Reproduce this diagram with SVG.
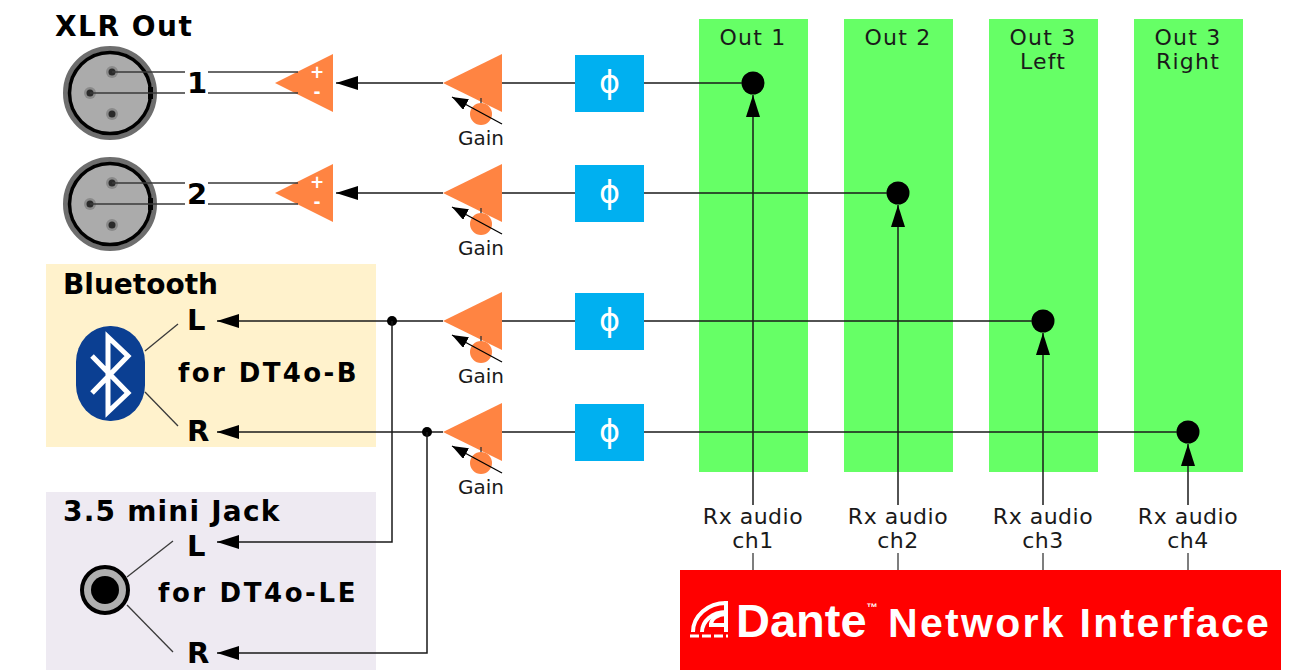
<svg xmlns="http://www.w3.org/2000/svg" width="1304" height="670" viewBox="0 0 1304 670">
<defs>
<style>
.t{font-family:"DejaVu Sans","Liberation Sans",sans-serif;fill:#1a1a1a}
.b{font-weight:bold;fill:#000}
.ln{stroke:#1a1a1a;stroke-width:1.5;fill:none}
.thin{stroke:#3a3a3a;stroke-width:1.3;fill:none}
.amp{fill:#FF8442}
.ph{fill:#00B0F0}
.col{fill:#66FF66}
.phi{font-family:"DejaVu Sans",sans-serif;font-size:32px;fill:#fff;text-anchor:middle}
.gain{font-size:20px;text-anchor:middle}
.out{font-size:22px;letter-spacing:1.2px;text-anchor:middle}
.rx{font-size:22px;letter-spacing:0.5px;text-anchor:middle}
.lr{font-size:29px}
.pm{font-family:"DejaVu Sans",sans-serif;font-size:17px;font-weight:bold;fill:#fff;text-anchor:middle}
</style>
<marker id="ah" viewBox="0 0 22 14" refX="22" refY="7" markerWidth="22" markerHeight="14" markerUnits="userSpaceOnUse" orient="auto"><path d="M0,0 L22,7 L0,14 z" fill="#000"/></marker>
<marker id="ahs" viewBox="0 0 16 12" refX="16" refY="6" markerWidth="16" markerHeight="12" markerUnits="userSpaceOnUse" orient="auto"><path d="M0,0 L16,6 L0,12 z" fill="#000"/></marker>
<g id="xlrBody">
<circle r="44.5" fill="#ababab" stroke="#6e6e6e" stroke-width="5"/>
<circle r="40.5" fill="none" stroke="#000" stroke-width="3.5"/>
<circle cx="2" cy="-21" r="6" fill="#8a8a8a"/><circle cx="2" cy="-21" r="3.5" fill="#2a2a2a"/>
<circle cx="-20" cy="0" r="6" fill="#8a8a8a"/><circle cx="-20" cy="0" r="3.5" fill="#2a2a2a"/>
<circle cx="2" cy="21" r="6" fill="#8a8a8a"/><circle cx="2" cy="21" r="3.5" fill="#2a2a2a"/>
<rect x="38" y="-6" width="5" height="12" fill="#000"/>
</g>
<g id="gainBody">
<polygon class="amp" points="443,83 502,54 502,112"/>
<line x1="481" y1="98" x2="481" y2="104" stroke="#333" stroke-width="1.3"/>
<circle class="amp" cx="481" cy="114" r="11"/>
<line x1="502" y1="124" x2="452" y2="97" stroke="#000" stroke-width="1.3" marker-end="url(#ahs)"/>
<text class="t gain" x="481" y="145">Gain</text>
</g>
<g id="phaseBody">
<rect class="ph" x="575" y="55" width="69" height="57"/>
<text class="phi" x="609.5" y="93">ϕ</text>
</g>
</defs>
<rect width="1304" height="670" fill="#fff"/>

<g id="out1"><rect class="col" x="699" y="19" width="109" height="453"/><text class="t out" x="753" y="45">Out 1</text><circle cx="753" cy="83" r="11.5" fill="#000"/></g>
<g id="out2"><rect class="col" x="844" y="19" width="109" height="453"/><text class="t out" x="898" y="45">Out 2</text><circle cx="898" cy="193" r="11.5" fill="#000"/></g>
<g id="out3L"><rect class="col" x="989" y="19" width="109" height="453"/><text class="t out" x="1043" y="45">Out 3</text><text class="t out" x="1043" y="69">Left</text><circle cx="1043" cy="321" r="11.5" fill="#000"/></g>
<g id="out3R"><rect class="col" x="1134" y="19" width="109" height="453"/><text class="t out" x="1188" y="45">Out 3</text><text class="t out" x="1188" y="69">Right</text><circle cx="1188" cy="432" r="11.5" fill="#000"/></g>

<g id="bluetooth">
<rect x="46" y="264" width="330" height="183" fill="#FFF2CC"/>
<text class="t b" x="63" y="294" font-size="28">Bluetooth</text>
<rect x="76" y="326" width="69" height="95" rx="34" ry="36" fill="#0B3F92"/>
<path d="M92,356 L128,393 L108,412 L108,337 L128,356 L92,393" fill="none" stroke="#fff" stroke-width="5" stroke-linejoin="miter"/>
<line class="thin" x1="145" y1="351" x2="178" y2="324"/>
<line class="thin" x1="145" y1="392" x2="178" y2="426"/>
<text class="t b lr" x="187" y="330">L</text>
<text class="t b lr" x="187" y="441">R</text>
<text class="t b" x="178" y="382" font-size="26" letter-spacing="2.4">for DT4o-B</text>
</g>

<g id="minijack">
<rect x="46" y="492" width="330" height="178" fill="#EEEAF2"/>
<text class="t b" x="63" y="521" font-size="28" letter-spacing="1.2">3.5 mini Jack</text>
<circle cx="105" cy="590" r="23" fill="#b0b0b0" stroke="#000" stroke-width="4"/>
<circle cx="105" cy="590" r="14" fill="#000"/>
<line class="thin" x1="127" y1="577" x2="173" y2="541"/>
<line class="thin" x1="127" y1="605" x2="173" y2="652"/>
<text class="t b lr" x="187" y="556">L</text>
<text class="t b lr" x="187" y="663">R</text>
<text class="t b" x="158" y="602" font-size="26" letter-spacing="2.6">for DT4o-LE</text>
</g>

<g id="xlrTitle"><text class="t b" x="55" y="36" font-size="28" letter-spacing="1.5">XLR Out</text></g>

<g id="xlr1">
<use href="#xlrBody" x="110" y="93"/>
<text class="t b" x="187" y="93" font-size="29">1</text>
</g>
<g id="xlr2">
<use href="#xlrBody" x="110" y="204"/>
<text class="t b" x="187" y="204" font-size="29">2</text>
</g>

<g id="driver1">
<polygon class="amp" points="275,83 333,54 333,112"/>
<text class="pm" x="317" y="78">+</text><text class="pm" x="317" y="98">-</text>
</g>
<g id="driver2">
<polygon class="amp" points="275,193 333,164 333,222"/>
<text class="pm" x="317" y="188">+</text><text class="pm" x="317" y="208">-</text>
</g>

<g id="gain1"><use href="#gainBody"/></g>
<g id="gain2"><use href="#gainBody" y="110"/></g>
<g id="gain3"><use href="#gainBody" y="238"/></g>
<g id="gain4"><use href="#gainBody" y="349"/></g>

<g id="phase1"><use href="#phaseBody"/></g>
<g id="phase2"><use href="#phaseBody" y="110"/></g>
<g id="phase3"><use href="#phaseBody" y="238"/></g>
<g id="phase4"><use href="#phaseBody" y="349"/></g>

<g id="dante">
<rect x="680" y="570" width="601" height="100" fill="#FF0000"/>
<g fill="none" stroke="#fff" stroke-width="4">
<path d="M693,632 A33,29 0 0 1 726,603"/>
<path d="M702,632 A24,20 0 0 1 726,612"/>
<path d="M711,625 A15,11 0 0 1 726,614"/>
<path d="M709,625 H726 M726,601 V632"/>
<path d="M690,636 H728" stroke-dasharray="9 3" stroke-width="3"/>
</g>
<text x="736" y="637" font-family="Liberation Sans, Arial, sans-serif" font-size="47" font-weight="bold" fill="#fff">Dante<tspan font-size="11" dy="-26">™</tspan></text>
<text x="888" y="637" font-family="Liberation Sans, Arial, sans-serif" font-size="41" font-weight="bold" fill="#fff" letter-spacing="2.3">Network Interface</text>
</g>

<g id="rxlabels">
<text class="t rx" x="753" y="524">Rx audio</text><text class="t rx" x="753" y="548">ch1</text>
<text class="t rx" x="898" y="524">Rx audio</text><text class="t rx" x="898" y="548">ch2</text>
<text class="t rx" x="1043" y="524">Rx audio</text><text class="t rx" x="1043" y="548">ch3</text>
<text class="t rx" x="1188" y="524">Rx audio</text><text class="t rx" x="1188" y="548">ch4</text>
</g>

<g id="connectors">
<path class="thin" d="M112,72 H185 M208,72 H298 M90,93 H185 M208,93 H298"/>
<path class="thin" d="M112,183 H185 M208,183 H298 M90,204 H185 M208,204 H298"/>
<line class="ln" x1="443" y1="83" x2="336" y2="83" marker-end="url(#ah)"/>
<line class="ln" x1="502" y1="83" x2="575" y2="83"/>
<line class="ln" x1="644" y1="83" x2="742" y2="83"/>
<line class="ln" x1="443" y1="193" x2="336" y2="193" marker-end="url(#ah)"/>
<line class="ln" x1="502" y1="193" x2="575" y2="193"/>
<line class="ln" x1="644" y1="193" x2="887" y2="193"/>
<line class="ln" x1="443" y1="321" x2="217" y2="321" marker-end="url(#ah)"/>
<circle cx="392" cy="321" r="5" fill="#000"/>
<polyline class="ln" points="392,321 392,542 217,542" marker-end="url(#ah)"/>
<line class="ln" x1="502" y1="321" x2="575" y2="321"/>
<line class="ln" x1="644" y1="321" x2="1032" y2="321"/>
<line class="ln" x1="443" y1="432" x2="217" y2="432" marker-end="url(#ah)"/>
<circle cx="427" cy="432" r="5" fill="#000"/>
<polyline class="ln" points="427,432 427,653 217,653" marker-end="url(#ah)"/>
<line class="ln" x1="502" y1="432" x2="575" y2="432"/>
<line class="ln" x1="644" y1="432" x2="1177" y2="432"/>
<line class="ln" x1="753" y1="505" x2="753" y2="95" marker-end="url(#ah)"/>
<line class="ln" x1="898" y1="505" x2="898" y2="205" marker-end="url(#ah)"/>
<line class="ln" x1="1043" y1="505" x2="1043" y2="333" marker-end="url(#ah)"/>
<line class="ln" x1="1188" y1="505" x2="1188" y2="444" marker-end="url(#ah)"/>
<path class="thin" d="M753,553 V570 M898,553 V570 M1043,553 V570 M1188,553 V570"/>
</g>
</svg>
